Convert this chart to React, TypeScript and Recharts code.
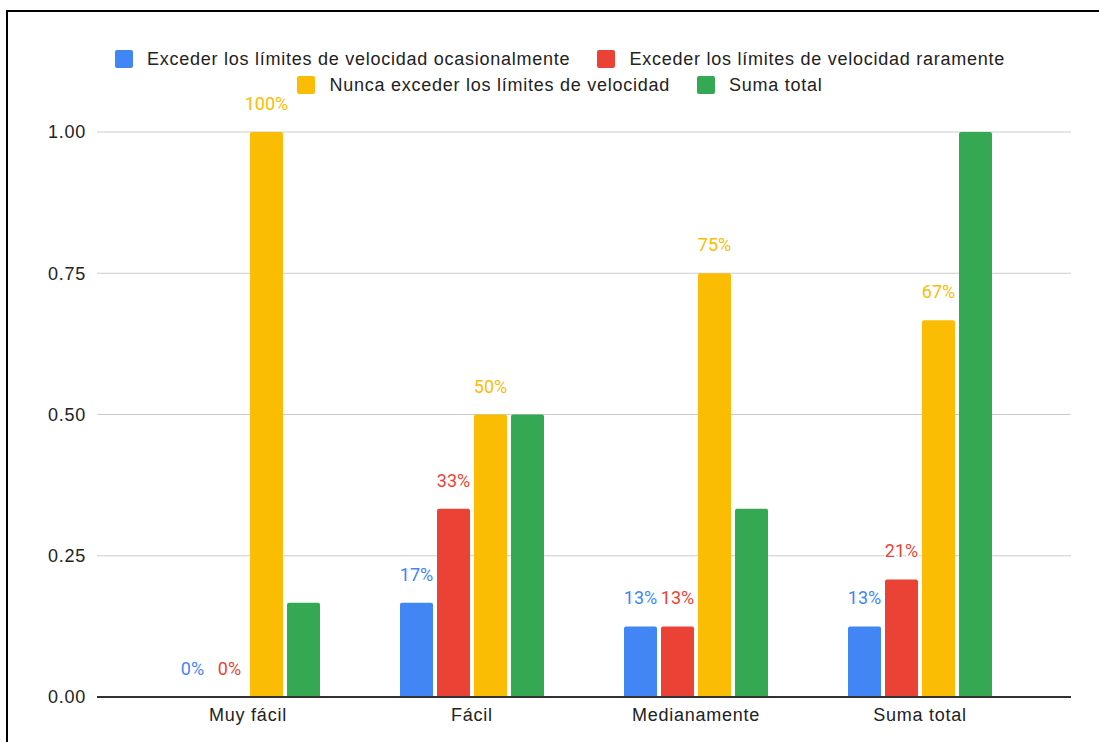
import React from 'react';
import { BarChart, Bar, XAxis, YAxis, CartesianGrid, Legend, LabelList } from 'recharts';

const categories = ['Muy fácil', 'Fácil', 'Medianamente', 'Suma total'];
const ocasionalmente = [0, 0.167, 0.125, 0.125];
const raramente = [0, 0.333, 0.125, 0.208];
const nunca = [1.0, 0.5, 0.75, 0.667];
const sumaTotal = [0.167, 0.5, 0.333, 1.0];
const yTicks = [0, 0.25, 0.5, 0.75, 1.0];

const seriesNames = [
  'Exceder los límites de velocidad ocasionalmente',
  'Exceder los límites de velocidad raramente',
  'Nunca exceder los límites de velocidad',
  'Suma total',
];
const seriesKeys = ['oc', 'ra', 'nu', 'st'];
const seriesColors = ['#4285F4', '#EA4335', '#FBBC04', '#34A853'];

const data = categories.map((c, i) => ({
  name: c,
  oc: ocasionalmente[i],
  ra: raramente[i],
  nu: nunca[i],
  st: sumaTotal[i],
}));

const textFont = '"Liberation Sans", Arial, sans-serif';

const LegendContent = () => (
  <div
    style={{
      display: 'flex',
      flexWrap: 'wrap',
      justifyContent: 'center',
      columnGap: 27,
      rowGap: 0,
      fontFamily: textFont,
      fontSize: 18,
      letterSpacing: 0.75,
      color: '#222',
    }}
  >
    {seriesNames.map((n, i) => (
      <div key={n} style={{ display: 'flex', alignItems: 'center', height: 26, whiteSpace: 'nowrap' }}>
        <span
          style={{
            display: 'inline-block',
            width: 18,
            height: 18,
            borderRadius: 2,
            background: seriesColors[i],
            marginRight: 14,
          }}
        />
        <span>{n}</span>
      </div>
    ))}
  </div>
);

const fmt = (v: any) => `${Math.round(Number(v) * 100)}%`;

export default function App() {
  return (
    <div
      style={{
        position: 'fixed',
        left: 0,
        top: 0,
        width: 1099,
        height: 742,
        overflow: 'hidden',
        background: '#fff',
      }}
    >
      <div
        style={{
          position: 'absolute',
          left: 6,
          top: 10,
          width: 1200,
          height: 900,
          border: '2px solid #000',
        }}
      />
      <div style={{ position: 'absolute', left: 0, top: 0 }}>
        <BarChart
          width={1099}
          height={742}
          data={data}
          margin={{ top: 132, right: 28, bottom: 15, left: 0 }}
          barCategoryGap={40}
          barGap={4}
        >
          <CartesianGrid vertical={false} stroke="#cccccc" />
          <XAxis
            dataKey="name"
            padding={{ left: 39, right: 39 }}
            tickLine={false}
            axisLine={{ stroke: '#333333', strokeWidth: 2 }}
            height={30}
            tickMargin={5}
            tick={{ fill: '#222', fontSize: 18, fontFamily: textFont, letterSpacing: 0.75 }}
          />
          <YAxis
            width={97}
            domain={[0, 1]}
            ticks={yTicks}
            tickFormatter={(v: number) => v.toFixed(2)}
            axisLine={false}
            tickLine={false}
            tickMargin={5}
            tick={{ fill: '#222', fontSize: 18, fontFamily: textFont, letterSpacing: 0.75 }}
          />
          <Legend
            layout="horizontal"
            verticalAlign="middle"
            align="center"
            wrapperStyle={{ top: 46, left: 100, width: 920 }}
            content={<LegendContent />}
          />
          {seriesKeys.map((k, i) => (
            <Bar
              key={k}
              dataKey={k}
              name={seriesNames[i]}
              fill={seriesColors[i]}
              radius={[2, 2, 0, 0]}
              minPointSize={0.01}
              isAnimationActive={false}
            >
              {i < 3 && (
                <LabelList
                  dataKey={k}
                  position="top"
                  offset={22}
                  formatter={fmt}
                  fill={seriesColors[i]}
                  stroke="#fff"
                  strokeWidth={3}
                  style={{ paintOrder: 'stroke', fontFamily: 'Roboto, sans-serif', fontSize: 18 }}
                />
              )}
            </Bar>
          ))}
        </BarChart>
      </div>
    </div>
  );
}
